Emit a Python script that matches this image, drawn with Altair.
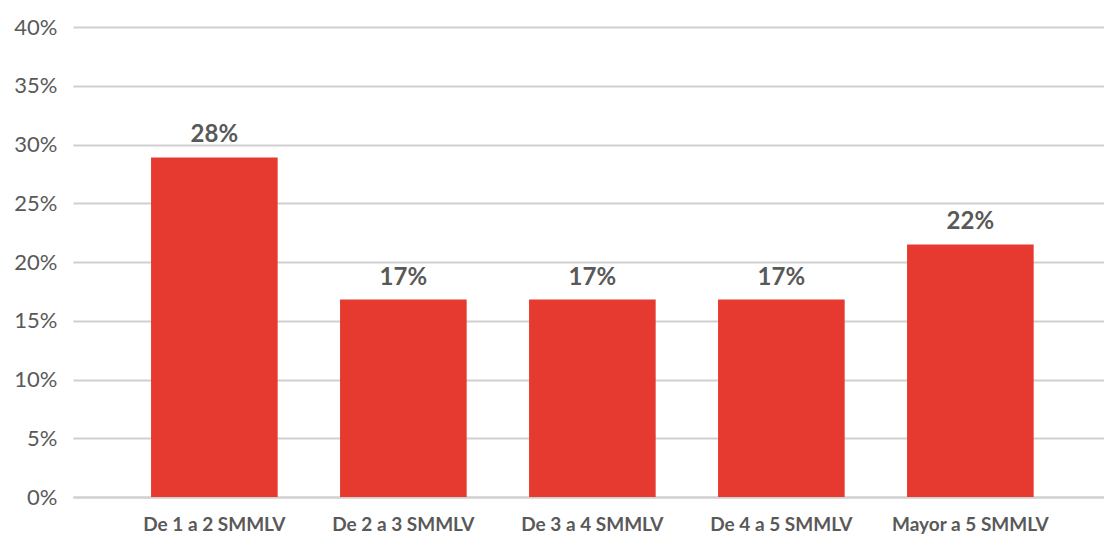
import altair as alt
import pandas as pd

categories = ["De 1 a 2 SMMLV", "De 2 a 3 SMMLV", "De 3 a 4 SMMLV", "De 4 a 5 SMMLV", "Mayor a 5 SMMLV"]
values = [0.289, 0.168, 0.168, 0.168, 0.215]
labels = ["28%", "17%", "17%", "17%", "22%"]

df = pd.DataFrame({"cat": categories, "val": values, "lab": labels})

FONT = "Lato"
GRAY = "#595959"
GRID = "#d0d0d0"

base = alt.Chart(df).encode(
    x=alt.X("cat:N", sort=categories, title=None,
            scale=alt.Scale(paddingInner=0.33, paddingOuter=0.3925, align=0.526),
            axis=alt.Axis(labelAngle=0, labelFont=FONT, labelFontSize=19, labelFontWeight="bold",
                          labelColor=GRAY, ticks=False, domainColor=GRID, domainWidth=2,
                          labelPadding=33, labelBaseline="alphabetic")),
    y=alt.Y("val:Q", title=None,
            scale=alt.Scale(domain=[0, 0.4], nice=False),
            axis=alt.Axis(format=".0%", values=[0, 0.05, 0.1, 0.15, 0.2, 0.25, 0.3, 0.35, 0.4],
                          labelFont=FONT, labelFontSize=22, labelColor=GRAY, ticks=False,
                          domain=False, gridColor=GRID, gridWidth=2, labelPadding=16)),
)

bars = base.mark_bar(color="#E63A30")
text = base.mark_text(dy=-15, font=FONT, fontSize=24, fontWeight="bold", color=GRAY,
                      baseline="alphabetic").encode(text="lab:N")

chart = (bars + text).properties(
    width=1031, height=470,
    background="white",
    autosize=alt.AutoSizeParams(type="none"),
    padding={"left": 65, "top": 19, "right": 0, "bottom": 37},
).configure_view(stroke=None)

chart.save("out.html", embed_options={"renderer": "svg", "actions": False})
